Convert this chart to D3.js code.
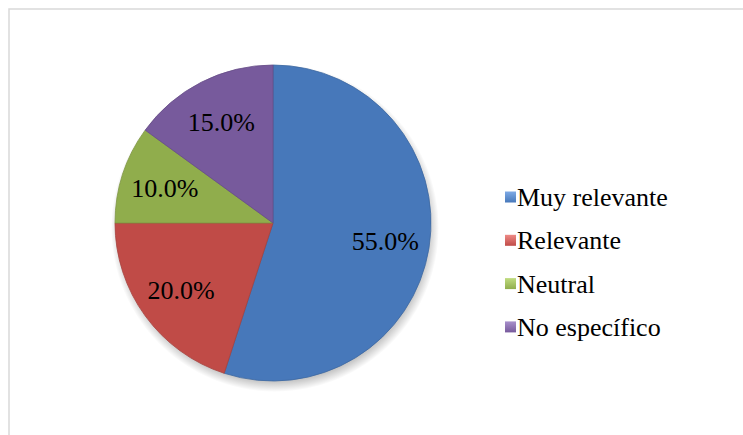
<!DOCTYPE html>
<html>
<head>
<meta charset="utf-8">
<script src="https://cdn.jsdelivr.net/npm/d3@7"></script>
</head>
<body style="margin:0">
<svg id="chart" width="743" height="435"></svg>
<script>
// chart data
var categories = ["Muy relevante", "Relevante", "Neutral", "No específico"];
var values = [55.0, 20.0, 10.0, 15.0];
var colors = ["#4f86cf", "#d6544f", "#a0c055", "#8464ae"];
var lightColors = ["#7eaae6", "#ee8a86", "#c0dc80", "#a890cc"];

// canvas
var width = 743,
    height = 435,
    center = [273, 223],
    radius = 158;

var svg = d3.select("#chart")
    .attr("width", width)
    .attr("height", height);

// frame (only top and left edges are visible in the crop)
svg.append("path")
    .attr("d", "M9,436 L9,9 L744,9")
    .attr("fill", "none")
    .attr("stroke", "#d9d9d9")
    .attr("stroke-width", 1.5);

var defs = svg.append("defs");

// one gradient per slice, lighter near the edge (bevel look)
colors.forEach(function(c, i) {
  var g = defs.append("radialGradient")
      .attr("id", "grad" + i)
      .attr("gradientUnits", "userSpaceOnUse")
      .attr("cx", center[0]).attr("cy", center[1])
      .attr("r", radius);
  g.append("stop").attr("offset", "0%").attr("stop-color", c);
  g.append("stop").attr("offset", "86%").attr("stop-color", c);
  g.append("stop").attr("offset", "95%").attr("stop-color", lightColors[i]);
  g.append("stop").attr("offset", "100%").attr("stop-color", d3.color(c).darker(0.3));

  var lg = defs.append("linearGradient")
      .attr("id", "leg" + i)
      .attr("x1", 0).attr("y1", 0).attr("x2", 0).attr("y2", 1);
  lg.append("stop").attr("offset", "0%").attr("stop-color", lightColors[i]);
  lg.append("stop").attr("offset", "100%").attr("stop-color", d3.color(c).darker(0.3));
});

// radial fade used as a soft shadow below the pie
var sh = defs.append("radialGradient").attr("id", "shadowGrad");
sh.append("stop").attr("offset", "90%").attr("stop-color", "#000").attr("stop-opacity", 0.35);
sh.append("stop").attr("offset", "100%").attr("stop-color", "#000").attr("stop-opacity", 0);

var pie = d3.pie().sort(null).value(function(d) { return d; });
var arcs = pie(values);

var arc = d3.arc().innerRadius(0).outerRadius(radius);
var labelArc = d3.arc().innerRadius(radius * 0.72).outerRadius(radius * 0.72);

var g = svg.append("g")
    .attr("transform", "translate(" + center[0] + "," + center[1] + ")");

// shadow
g.append("circle")
    .attr("cx", 2).attr("cy", 5)
    .attr("r", radius + 6)
    .attr("fill", "url(#shadowGrad)");

g.selectAll(".slice")
    .data(arcs)
    .enter().append("path")
      .classed("slice", true)
      .attr("d", arc)
      .attr("fill", function(d, i) { return "url(#grad" + i + ")"; })
      .attr("stroke", function(d, i) { return d3.color(colors[i]).darker(0.7); })
      .attr("stroke-width", 0.8);

// labels, placed straight on the svg (absolute positions from the centroids)
svg.selectAll(".label")
    .data(arcs)
    .enter().append("text")
      .attr("x", function(d) { return center[0] + labelArc.centroid(d)[0]; })
      .attr("y", function(d) { return center[1] + labelArc.centroid(d)[1] + 9; })
      .attr("text-anchor", "middle")
      .attr("font-size", 26)
      .style("font-family", function() { return "'Liberation Serif'"; })
      .text(function(d) { return d.data.toFixed(1) + "%"; });

// legend
svg.selectAll(".legbox")
    .data(categories)
    .enter().append("rect")
      .attr("x", 505)
      .attr("y", function(d, i) { return 191.5 + i * 43.3; })
      .attr("width", 11).attr("height", 11)
      .attr("fill", function(d, i) { return "url(#leg" + i + ")"; });

svg.selectAll(".legtext")
    .data(categories)
    .enter().append("text")
      .attr("x", 517)
      .attr("y", function(d, i) { return 206 + i * 43.3; })
      .attr("font-size", 26)
      .style("font-family", function() { return "'Liberation Serif'"; })
      .text(function(d) { return d; });
</script>
</body>
</html>
